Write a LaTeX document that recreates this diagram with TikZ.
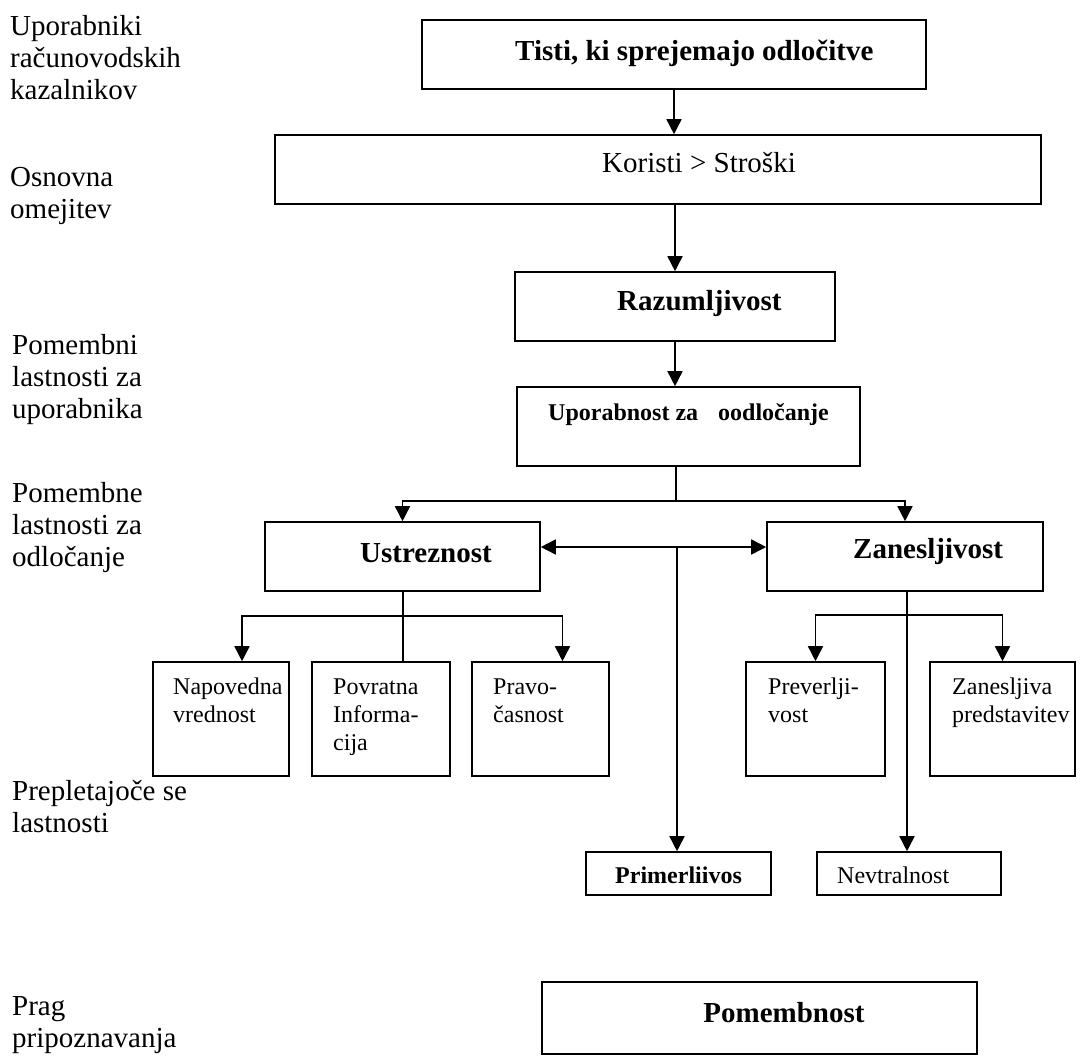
\documentclass[tikz,border=0pt]{standalone}
\usepackage{fontspec}
\setmainfont{Liberation Serif}
\usetikzlibrary{arrows.meta}

\begin{document}
\begin{tikzpicture}[x=1pt, y=-1pt,
    box/.style={draw, line width=1.6pt, inner sep=0pt},
    big/.style={font=\fontsize{29}{32}\selectfont, inner sep=0pt, anchor=base west, align=left},
    bigb/.style={big, font=\fontsize{29}{32}\selectfont\bfseries},
    small/.style={font=\fontsize{24}{28}\selectfont, inner sep=0pt, anchor=base west, align=left},
    smallb/.style={small, font=\fontsize{24}{28}\selectfont\bfseries},
    link/.style={line width=1.6pt},
    arr/.style={link, -{Triangle[length=15pt, width=15pt]}},
    dbl/.style={link, {Triangle[length=15pt, width=15pt]}-{Triangle[length=15pt, width=15pt]}}]

    \useasboundingbox (0,0) rectangle (1081,1055);

    % multi-line texts: base = last line
    \node[big] (users) at (10,99) {Uporabniki\\računovodskih\\kazalnikov};
    \node[big] (limit) at (10,218) {Osnovna\\omejitev};
    \node[big] (userq) at (12,418) {Pomembni\\lastnosti za\\uporabnika};
    \node[big] (decq) at (12,566) {Pomembne\\lastnosti za\\odločanje};
    \node[big] (inter) at (12,832) {Prepletajoče se\\lastnosti};
    \node[big] (thresh) at (12,1047) {Prag\\pripoznavanja};

    \node[box, minimum width=504pt, minimum height=69pt] (tisti) at (674,54.5) {};
    \node[bigb] (tistit) at (515,60) {Tisti, ki sprejemajo odločitve};

    \node[box, minimum width=766pt, minimum height=69pt] (koristi) at (658,169.5) {};
    \node[big] (koristit) at (602,172) {Koristi > Stroški};

    \node[box, minimum width=320pt, minimum height=69pt] (razum) at (675,306.5) {};
    \node[bigb] (razumt) at (617,310) {Razumljivost};

    \node[box, minimum width=343pt, minimum height=79pt] (upor) at (688.5,426.5) {};
    \node[smallb] (uport) at (548,420) {Uporabnost za\hspace{20pt}oodločanje};

    \node[box, minimum width=275pt, minimum height=69pt] (ustr) at (402.5,556.5) {};
    \node[bigb] (ustrt) at (360,562) {Ustreznost};

    \node[box, minimum width=276pt, minimum height=69pt] (zanes) at (905,556.5) {};
    \node[bigb] (zanest) at (853,558) {Zanesljivost};

    \node[box, minimum width=136pt, minimum height=114pt] (napov) at (221,719) {};
    \node[small] (napovt) at (173,722) {Napovedna\\vrednost};
    \node[box, minimum width=138pt, minimum height=114pt] (povr) at (381,719) {};
    \node[small] (povrt) at (333,750) {Povratna\\Informa-\\cija};
    \node[box, minimum width=137pt, minimum height=114pt] (pravo) at (540.5,719) {};
    \node[small] (pravot) at (493,722) {Pravo-\\časnost};

    \node[box, minimum width=139pt, minimum height=114pt] (prever) at (815.5,719) {};
    \node[small] (prevert) at (768,722) {Preverlji-\\vost};
    \node[box, minimum width=145pt, minimum height=114pt] (zanrep) at (1002.5,719) {};
    \node[small] (zanrept) at (952,722) {Zanesljiva\\predstavitev};

    \node[box, minimum width=185pt, minimum height=43pt] (primer) at (678.5,873.5) {};
    \node[smallb] (primert) at (615,883) {Primerliivos};
    \node[box, minimum width=184pt, minimum height=43pt] (nevtr) at (909,873.5) {};
    \node[small] (nevtrt) at (837,883) {Nevtralnost};

    \node[box, minimum width=435pt, minimum height=72pt] (pomemb) at (759.5,1018) {};
    \node[bigb, anchor=base] (pomembt) at (784,1022) {Pomembnost};

    \coordinate (usplit) at (676,501);
    \coordinate (mid) at (677,547);
    \coordinate (rsplit) at (403,616);
    \coordinate (zsplit) at (907,615);

    \draw[arr] (tisti) -- (tisti |- koristi.north);
    \draw[arr] (razum |- koristi.south) -- (razum.north);
    \draw[arr] (razum.south) -- (razum.south |- upor.north);

    \draw[link] (usplit |- upor.south) -- (usplit);
    \draw[arr] (usplit) -| (ustr.north);
    \draw[arr] (usplit) -| (zanes.north);

    \draw[dbl] (ustr.east |- mid) -- (zanes.west |- mid);
    \draw[arr] (mid) -- (mid |- primer.north);

    \draw[link] (ustr.south -| rsplit) -- (rsplit |- povr.north);
    \draw[arr] (rsplit) -| ([xshift=21pt]napov.north);
    \draw[arr] (rsplit) -| ([xshift=22pt]pravo.north);

    \draw[arr] (zanes.south -| zsplit) -- (zsplit |- nevtr.north);
    \draw[arr] (zsplit) -| (prever.north);
    \draw[arr] (zsplit) -| (zanrep.north);

\end{tikzpicture}
\end{document}
